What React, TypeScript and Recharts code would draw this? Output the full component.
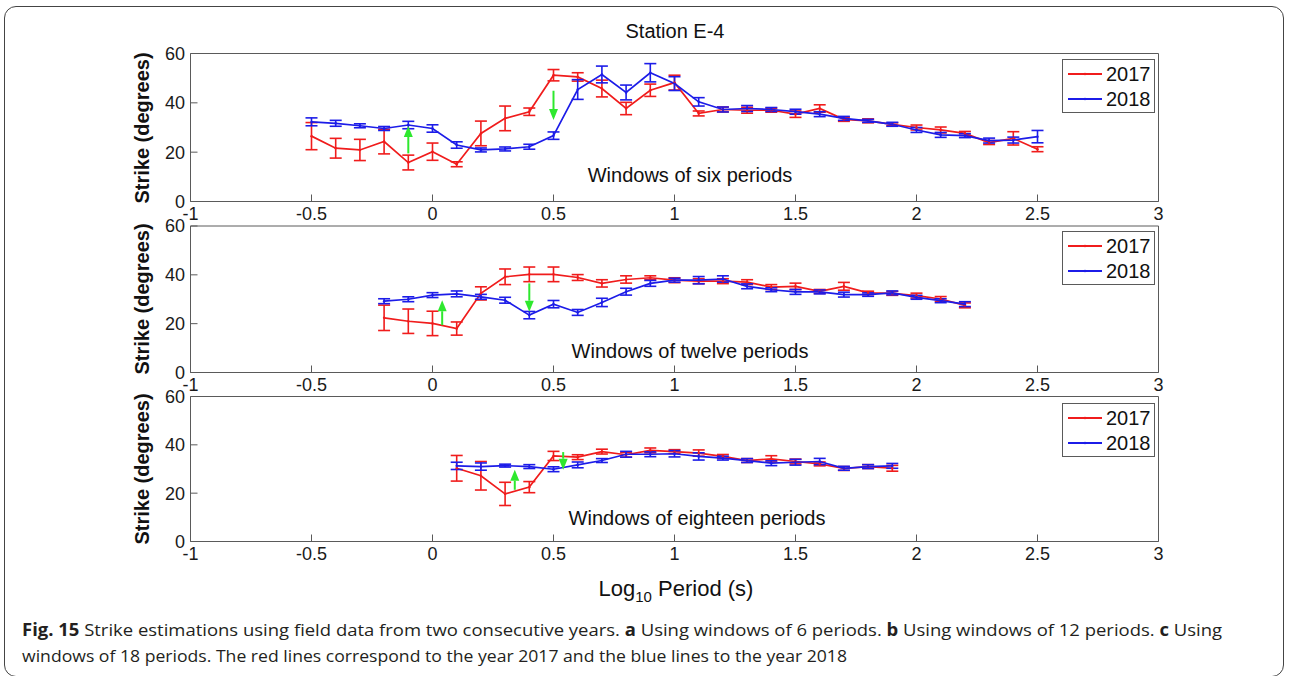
import React from "react";
import {
  ComposedChart,
  Line,
  XAxis,
  YAxis,
  ErrorBar,
  ReferenceLine,
  Legend,
} from "recharts";

const xTicks = [-1, -0.5, 0, 0.5, 1, 1.5, 2, 2.5, 3];
const yTicks = [0, 20, 40, 60];
const seriesNames = ["2017", "2018"];
const RED = "#f01c1c";
const BLUE = "#1c1ce8";
const GREEN = "#2ee82e";

// windows of six periods
const logPeriodSix = [
  -0.5, -0.4, -0.3, -0.2, -0.1, 0, 0.1, 0.2, 0.3, 0.4, 0.5, 0.6, 0.7, 0.8, 0.9, 1,
  1.1, 1.2, 1.3, 1.4, 1.5, 1.6, 1.7, 1.8, 1.9, 2, 2.1, 2.2, 2.3, 2.4, 2.5,
];
const strike2017Six = [
  26.5, 21.6, 20.9, 24.3, 15.8, 20.2, 15.1, 27.6, 33.7, 36.4, 51.2, 50.5, 45.8, 37.7, 45.1, 48.2,
  35.7, 37.3, 37.0, 37.0, 35.4, 37.7, 33.3, 32.7, 31.3, 30.0, 29.0, 27.6, 23.9, 25.6, 21.2,
];
const err2017Six = [
  5.5, 4, 4.3, 5, 3, 3.5, 1, 5, 5, 1.5, 2.3, 1.7, 3.4, 2.5, 2.5, 3,
  1, 1, 1.2, 0.8, 1.3, 1.5, 0.8, 0.8, 0.6, 1, 1.2, 0.8, 0.8, 2.7, 1,
];
const strike2018Six = [
  32.3, 31.7, 30.7, 29.6, 31.0, 29.6, 22.9, 20.9, 21.3, 22.2, 26.7, 45.4, 51.5, 44.2, 52.2, 47.8,
  40.4, 37.3, 37.7, 37.3, 36.4, 35.4, 33.7, 32.7, 31.3, 29.0, 27.0, 26.7, 24.7, 24.9, 26.3,
];
const err2018Six = [
  1.6, 1.2, 0.8, 0.8, 1.5, 1.5, 1.3, 0.8, 0.8, 1, 1.5, 4, 3.4, 3, 3.7, 2.8,
  1.7, 1, 1.2, 0.8, 1, 1, 0.8, 0.6, 0.8, 1, 1, 0.8, 1, 1.2, 2.5,
];

// windows of twelve periods
const logPeriodTwelve = [
  -0.2, -0.1, 0, 0.1, 0.2, 0.3, 0.4, 0.5, 0.6, 0.7, 0.8, 0.9, 1,
  1.1, 1.2, 1.3, 1.4, 1.5, 1.6, 1.7, 1.8, 1.9, 2, 2.1, 2.2,
];
const strike2017Twelve = [
  22.4, 21.0, 20.1, 18.0, 32.4, 39.2, 40.2, 40.2, 38.9, 36.5, 38.1, 38.8, 37.8,
  37.4, 37.4, 37.0, 35.0, 35.3, 33.2, 35.3, 32.6, 32.4, 31.5, 30.1, 27.5,
];
const err2017Twelve = [
  5.2, 5, 5, 2.7, 2.7, 3.2, 3, 3, 1.2, 1.5, 1.5, 0.8, 1,
  1, 1, 1, 1, 1.3, 0.8, 1.6, 0.7, 0.8, 1, 1, 1,
];
const strike2018Twelve = [
  29.2, 30.0, 31.7, 32.2, 31.0, 29.6, 23.5, 28.0, 24.6, 28.7, 33.1, 36.5, 37.8,
  37.8, 38.3, 35.3, 33.9, 33.0, 33.0, 31.9, 31.9, 32.6, 30.8, 29.4, 28.0,
];
const err2018Twelve = [
  1, 1, 1, 1.2, 1, 1.2, 1.5, 1.5, 1.2, 1.7, 1.4, 1.2, 0.8,
  1.5, 1.3, 1, 0.8, 1, 0.8, 1, 0.7, 0.8, 0.8, 0.8, 1,
];

// windows of eighteen periods
const logPeriodEighteen = [
  0.1, 0.2, 0.3, 0.4, 0.5, 0.6, 0.7, 0.8, 0.9, 1, 1.1, 1.2, 1.3, 1.4, 1.5, 1.6, 1.7, 1.8, 1.9,
];
const strike2017Eighteen = [
  30.3, 27.2, 19.7, 22.5, 35.4, 34.9, 37.2, 35.9, 37.7, 37.2, 36.6, 35.2, 33.5, 34.2, 33.1, 32.1, 30.2, 31.0, 30.3,
];
const err2017Eighteen = [
  5.3, 5.9, 4.8, 2.3, 1.9, 1, 1, 1, 1, 0.8, 1.3, 0.8, 0.8, 1.3, 1, 0.8, 0.8, 0.8, 1.2,
];
const strike2018Eighteen = [
  31.3, 31.0, 31.4, 31.0, 29.9, 31.7, 33.5, 36.1, 36.1, 36.3, 35.2, 34.5, 33.5, 32.4, 32.8, 33.1, 30.3, 31.0, 31.3,
];
const err2018Eighteen = [
  1.5, 1.5, 0.6, 0.8, 1, 1.2, 0.8, 1.2, 1, 1.3, 1.5, 0.8, 0.8, 1, 1.2, 1.3, 0.8, 0.8, 1,
];

// green arrows: shift between the two years
const arrowsSix = [
  { x: -0.1, from: 19.5, to: 30.6 },
  { x: 0.5, from: 44.9, to: 33.0 },
];
const arrowsTwelve = [
  { x: 0.04, from: 19.4, to: 29.6 },
  { x: 0.4, from: 36.5, to: 24.9 },
];
const arrowsEighteen = [
  { x: 0.34, from: 21.4, to: 29.7 },
  { x: 0.54, from: 37.0, to: 29.7 },
];

type Arrow = { x: number; from: number; to: number };

const FONT = '"Liberation Sans", Arial, Helvetica, sans-serif';
const AXIS = "#5a5a5a";

function rows(x: number[], s17: number[], e17: number[], s18: number[], e18: number[]) {
  return x.map((v, i) => ({ x: v, s17: s17[i], e17: e17[i], s18: s18[i], e18: e18[i] }));
}

function ArrowShape(props: any) {
  const { x1, y1, x2, y2 } = props;
  const dir = y2 < y1 ? -1 : 1;
  const head = 11;
  const half = 4.5;
  const baseY = y2 - dir * head;
  return (
    <g>
      <line x1={x1} y1={y1} x2={x2} y2={baseY} stroke={GREEN} strokeWidth={2} />
      <polygon
        points={`${x2},${y2} ${x2 - half},${baseY} ${x2 + half},${baseY}`}
        fill={GREEN}
      />
    </g>
  );
}

function LegendBox() {
  const colors = [RED, BLUE];
  return (
    <div
      style={{
        boxSizing: "border-box",
        width: 93,
        height: 54,
        border: `1px solid ${AXIS}`,
        background: "#fff",
        paddingTop: 1,
        fontFamily: FONT,
      }}
    >
      {seriesNames.map((name, i) => (
        <div key={name} style={{ display: "flex", alignItems: "center", height: 25.5, marginLeft: 4 }}>
          <svg width={36} height={10}>
            <line x1={1} y1={5} x2={35} y2={5} stroke={colors[i]} strokeWidth={2} />
            <circle cx={18} cy={5} r={1.2} fill={colors[i]} />
          </svg>
          <span style={{ marginLeft: 3, fontSize: 20, lineHeight: 1, color: "#111" }}>{name}</span>
        </div>
      ))}
    </div>
  );
}

type PanelProps = {
  top: number;
  height: number;
  plotTop: number;
  plotBottom: number;
  legendTop: number;
  data: ReturnType<typeof rows>;
  arrows: Arrow[];
};

function StrikePanel({ top, height, plotTop, plotBottom, legendTop, data, arrows }: PanelProps) {
  const relTop = plotTop - top;
  const relBottom = plotBottom - top;
  return (
    <div style={{ position: "absolute", left: 0, top }}>
      <ComposedChart
        width={1290}
        height={height}
        data={data}
        margin={{ left: 130.5, right: 121.5, top: relTop - 5, bottom: height - relBottom - 20 }}
        style={{ fontFamily: FONT }}
      >
        <XAxis
          xAxisId="b"
          dataKey="x"
          type="number"
          domain={[-1, 3]}
          ticks={xTicks}
          interval={0}
          height={20}
          allowDataOverflow
          stroke={AXIS}
          tickSize={-7}
          tickMargin={12.5}
          tick={{ fill: "#1a1a1a", fontSize: 18 }}
        />
        <XAxis
          xAxisId="t"
          orientation="top"
          dataKey="x"
          type="number"
          domain={[-1, 3]}
          ticks={xTicks}
          interval={0}
          height={5}
          allowDataOverflow
          stroke={AXIS}
          tickSize={-7}
          tick={false}
        />
        <YAxis
          yAxisId="l"
          domain={[0, 60]}
          ticks={yTicks}
          interval={0}
          width={60}
          allowDataOverflow
          stroke={AXIS}
          tickSize={-7}
          tickMargin={12.5}
          tick={{ fill: "#1a1a1a", fontSize: 18 }}
        />
        <YAxis
          yAxisId="r"
          orientation="right"
          domain={[0, 60]}
          ticks={yTicks}
          interval={0}
          width={10}
          allowDataOverflow
          stroke={AXIS}
          tickSize={-7}
          tick={false}
        />
        <Line
          xAxisId="b"
          yAxisId="l"
          name={seriesNames[0]}
          dataKey="s17"
          type="linear"
          stroke={RED}
          strokeWidth={1.7}
          dot={{ r: 1.2, fill: RED, strokeWidth: 0 }}
          isAnimationActive={false}
        >
          <ErrorBar dataKey="e17" width={6} stroke={RED} strokeWidth={1.6} isAnimationActive={false} />
        </Line>
        <Line
          xAxisId="b"
          yAxisId="l"
          name={seriesNames[1]}
          dataKey="s18"
          type="linear"
          stroke={BLUE}
          strokeWidth={1.7}
          dot={{ r: 1.2, fill: BLUE, strokeWidth: 0 }}
          isAnimationActive={false}
        >
          <ErrorBar dataKey="e18" width={6} stroke={BLUE} strokeWidth={1.6} isAnimationActive={false} />
        </Line>
        {arrows.map((a) => (
          <ReferenceLine
            key={a.x}
            xAxisId="b"
            yAxisId="l"
            segment={[
              { x: a.x, y: a.from },
              { x: a.x, y: a.to },
            ]}
            shape={ArrowShape}
          />
        ))}
        <Legend
          layout="horizontal"
          verticalAlign="middle"
          align="center"
          wrapperStyle={{ left: 1062, top: legendTop - top, width: 93, height: 54 }}
          content={() => <LegendBox />}
        />
      </ComposedChart>
    </div>
  );
}

const textBase: React.CSSProperties = {
  position: "absolute",
  fontFamily: FONT,
  color: "#111",
  whiteSpace: "nowrap",
  lineHeight: 1,
};

function Centered({ x, y, size, children, bold, rotate }: any) {
  return (
    <div
      style={{
        ...textBase,
        left: x,
        top: y,
        fontSize: size,
        fontWeight: bold ? "bold" : "normal",
        transform: `translate(-50%, -50%)${rotate ? " rotate(-90deg)" : ""}`,
      }}
    >
      {children}
    </div>
  );
}

export default function App() {
  const six = rows(logPeriodSix, strike2017Six, err2017Six, strike2018Six, err2018Six);
  const twelve = rows(logPeriodTwelve, strike2017Twelve, err2017Twelve, strike2018Twelve, err2018Twelve);
  const eighteen = rows(
    logPeriodEighteen,
    strike2017Eighteen,
    err2017Eighteen,
    strike2018Eighteen,
    err2018Eighteen
  );

  const capFont = '"Open Sans", "Noto Sans", sans-serif';

  return (
    <div
      style={{
        position: "absolute",
        left: 0,
        top: 0,
        width: 1290,
        height: 676,
        overflow: "hidden",
        background: "#fff",
      }}
    >
      <div
        style={{
          position: "absolute",
          left: 4,
          top: 6,
          width: 1280,
          height: 671,
          border: "1px solid #444",
          borderRadius: 12,
          boxSizing: "border-box",
        }}
      />

      <Centered x={675} y={31} size={20}>Station E-4</Centered>

      <StrikePanel top={0} height={230} plotTop={53.5} plotBottom={201.5} legendTop={59} data={six} arrows={arrowsSix} />
      <StrikePanel top={205} height={200} plotTop={226} plotBottom={372.5} legendTop={231} data={twelve} arrows={arrowsTwelve} />
      <StrikePanel top={375} height={200} plotTop={396.5} plotBottom={541.5} legendTop={403} data={eighteen} arrows={arrowsEighteen} />

      <Centered x={142} y={127.5} size={20} bold rotate>Strike (degrees)</Centered>
      <Centered x={142} y={299} size={20} bold rotate>Strike (degrees)</Centered>
      <Centered x={142} y={469} size={20} bold rotate>Strike (degrees)</Centered>

      <Centered x={690} y={175} size={20}>Windows of six periods</Centered>
      <Centered x={690} y={351} size={20}>Windows of twelve periods</Centered>
      <Centered x={697} y={518} size={20}>Windows of eighteen periods</Centered>

      <Centered x={676} y={591} size={22}>
        Log<sub style={{ fontSize: 15, verticalAlign: -6 }}>10</sub> Period (s)
      </Centered>

      <svg
        width={1290}
        height={66}
        style={{ position: "absolute", left: 0, top: 610 }}
      >
        <text
          x={22}
          y={26}
          fontFamily={capFont}
          fontSize={17}
          fill="#231f20"
          textLength={1200}
          lengthAdjust="spacingAndGlyphs"
        >
          <tspan fontWeight="bold">Fig. 15</tspan>
          {"  Strike estimations using field data from two consecutive years. "}
          <tspan fontWeight="bold">a</tspan>
          {" Using windows of 6 periods. "}
          <tspan fontWeight="bold">b</tspan>
          {" Using windows of 12 periods. "}
          <tspan fontWeight="bold">c</tspan>
          {" Using"}
        </text>
        <text
          x={22}
          y={52}
          fontFamily={capFont}
          fontSize={17}
          fill="#231f20"
          textLength={825}
          lengthAdjust="spacingAndGlyphs"
        >
          windows of 18 periods. The red lines correspond to the year 2017 and the blue lines to the year 2018
        </text>
      </svg>
    </div>
  );
}
